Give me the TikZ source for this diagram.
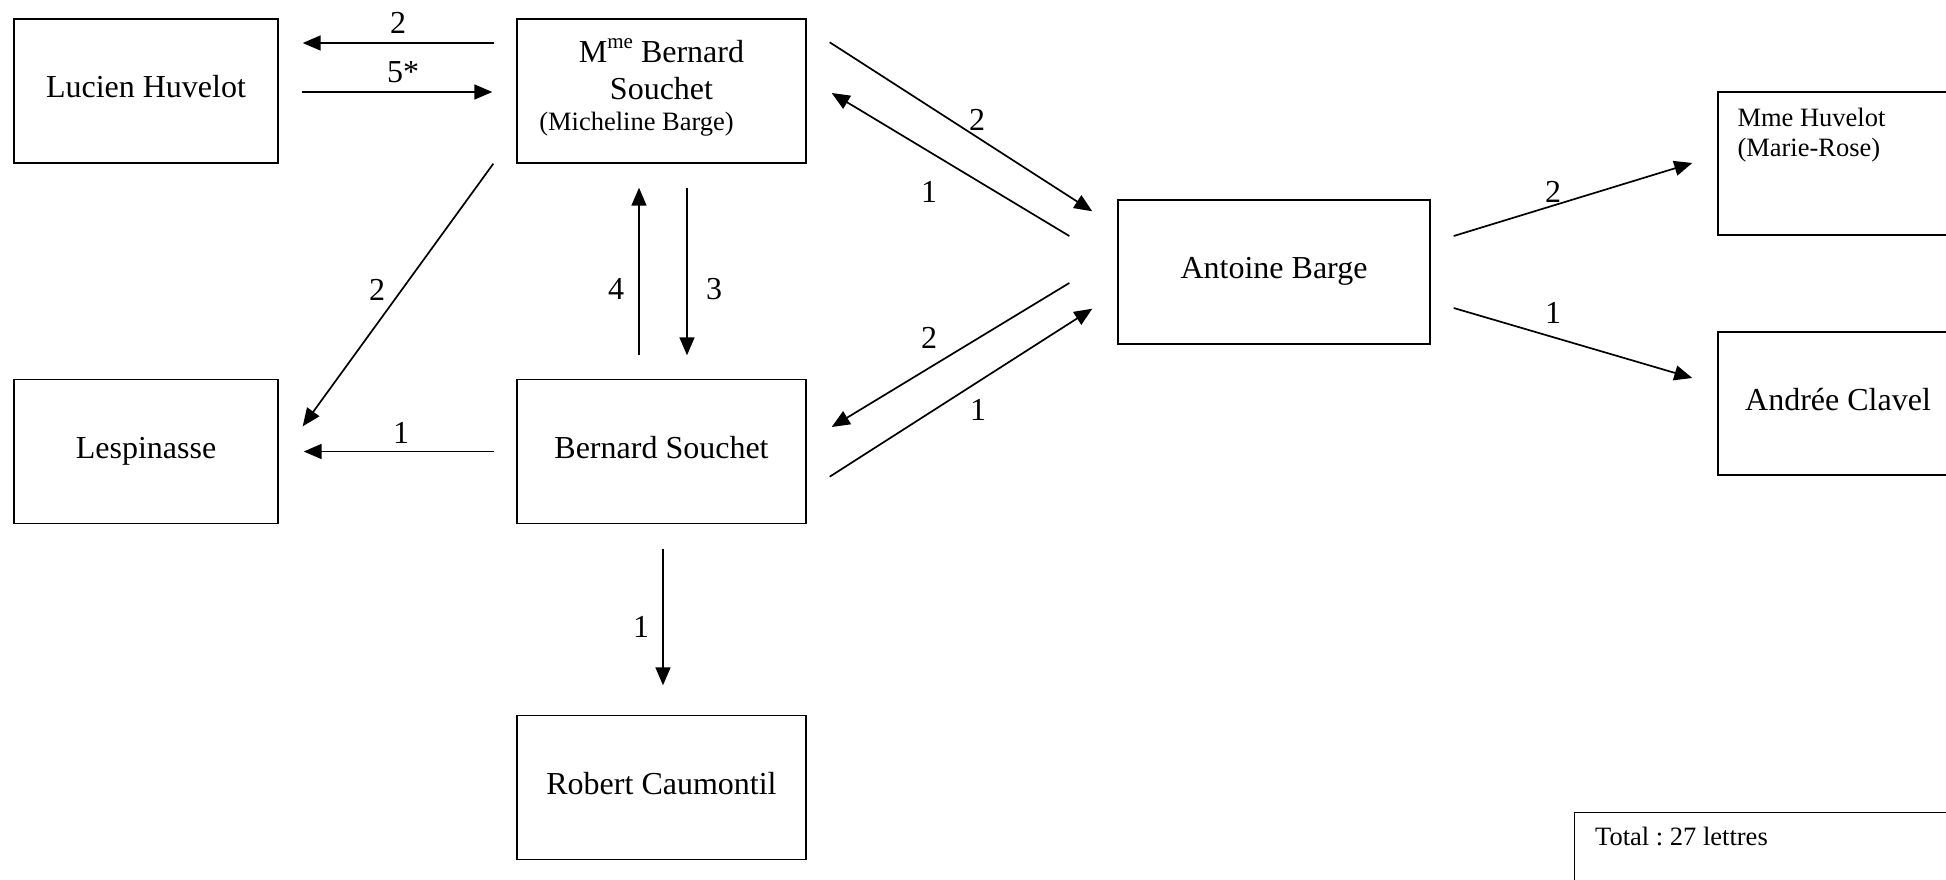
\documentclass[tikz,border=0pt]{standalone}
\usepackage{fontspec}
\setmainfont{Liberation Serif}
\usetikzlibrary{arrows.meta,calc}
\frenchspacing
\begin{document}
\begin{tikzpicture}[x=1pt,y=-1pt,
  box/.style={draw, line width=1.4pt, minimum height=144pt, inner sep=0pt, font=\fontsize{32}{37}\selectfont},
  one/.style={text height=22pt, text depth=9pt},
  arr/.style={line width=1.7pt, -{Triangle[length=18pt,width=15pt]}},
  lbl/.style={inner sep=0pt, font=\fontsize{32}{37}\selectfont},
  small/.style={inner sep=0pt, font=\fontsize{26.5}{30}\selectfont}]
\fill[white] (0,0) rectangle (1946,879);
\useasboundingbox (0,0) rectangle (1946,879);
\clip (0,0) rectangle (1946,879);

% boxes
\node[box,one,minimum width=264pt] (lh) at (146,91) {Lucien Huvelot};
\node[box,minimum width=289pt,align=center] (mbs) at (661.5,91)
  {M\raisebox{14pt}{\fontsize{21}{21}\selectfont me} Bernard\\Souchet\\[-6pt]{\fontsize{26.5}{30}\selectfont (Micheline Barge)}\hspace*{50pt}\rule[-13pt]{0pt}{13pt}};
\node[box,one,minimum width=264pt] (lesp) at (146,451.5) {Lespinasse};
\node[box,one,minimum width=289pt] (bs) at (661.5,451.5) {Bernard Souchet};
\node[box,one,minimum width=289pt] (rc) at (661.5,787.5) {Robert Caumontil};
\node[box,one,minimum width=312pt] (ab) at (1274,272) {Antoine Barge};
\node[box,minimum width=240pt,minimum height=143pt] (mh) at (1838,163.5) {};
\node[small,anchor=north west,align=left] (mhtext) at ($(mh.north west)+(20,17)$) {Mme Huvelot\\(Marie-Rose)};
\node[box,one,minimum width=240pt,minimum height=143pt] (ac) at (1838,403.5) {Andrée Clavel};
\node[box,minimum width=400pt,minimum height=100pt,anchor=north west] (total) at (1574,812) {};
\node[small,anchor=base west] (totaltext) at ($(total.north west)+(21,33)$) {Total : 27 lettres};

% connectors
\draw[arr] ($(mbs.west)+(-22,-48)$) -- ($(lh.east)+(24,-48)$);
\draw[arr] ($(lh.east)+(23,1)$) -- ($(mbs.west)+(-24,1)$);
\draw[arr] ($(mbs.south west)+(-23,0)$) -- ($(lesp.north east)+(24,47.5)$);
\draw[arr] ($(bs.west)+(-22,0)$) -- ($(lesp.east)+(25,0)$);
\draw[arr] ($(bs.north)+(-22.5,-23.5)$) -- ($(mbs.south)+(-22.5,24)$);
\draw[arr] ($(mbs.south)+(25.5,24)$) -- ($(bs.north)+(25.5,-23.5)$);
\draw[arr] ($(bs.south)+(1.5,24.5)$) -- ($(rc.north)+(1.5,-29.5)$);
\draw[arr] ($(mbs.north east)+(23,24)$) -- ($(ab.north west)+(-25,12)$);
\draw[arr] ($(ab.west)+(-48,-36)$) -- ($(mbs.east)+(25,2)$);
\draw[arr] ($(ab.west)+(-48,11)$) -- ($(bs.east)+(25,-24.5)$);
\draw[arr] ($(bs.south east)+(23,-47.5)$) -- ($(ab.south west)+(-25,-36)$);
\draw[arr] ($(ab.east)+(23,-36)$) -- ($(mh.west)+(-25,-0.5)$);
\draw[arr] ($(ab.east)+(23,36)$) -- ($(ac.west)+(-25,-25.5)$);

% labels
\node[lbl] (n1) at (398,23) {2};
\node[lbl] (n2) at (403,72) {5*};
\node[lbl] (n3) at (377,290) {2};
\node[lbl] (n4) at (401,433) {1};
\node[lbl] (n5) at (616,289) {4};
\node[lbl] (n6) at (714,289) {3};
\node[lbl] (n7) at (641,627) {1};
\node[lbl] (n8) at (977,120) {2};
\node[lbl] (n9) at (929,192) {1};
\node[lbl] (n10) at (929,338) {2};
\node[lbl] (n11) at (978,410) {1};
\node[lbl] (n12) at (1553,192) {2};
\node[lbl] (n13) at (1553,313) {1};
\end{tikzpicture}
\end{document}
